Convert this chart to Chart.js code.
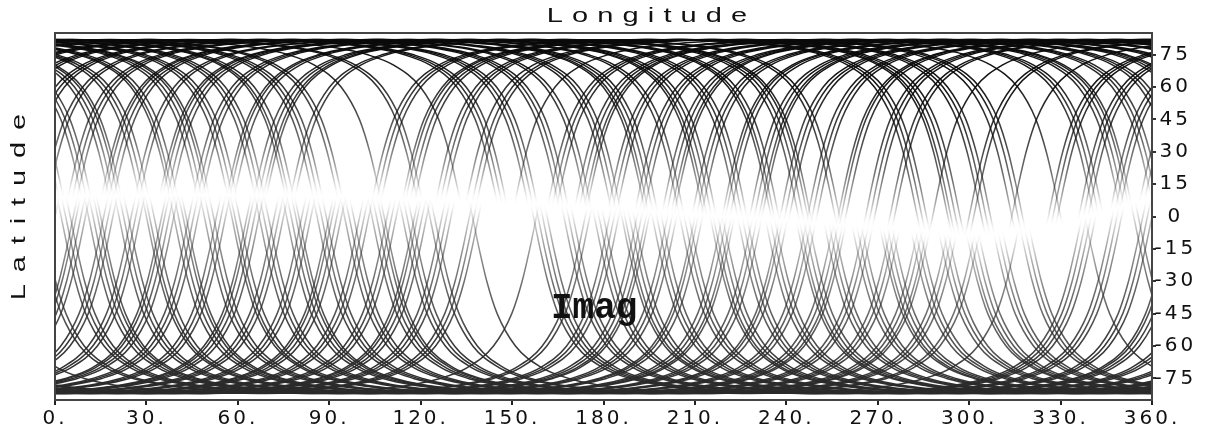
<!DOCTYPE html>
<html>
<head>
<meta charset="utf-8">
<style>
  html, body { margin: 0; padding: 0; background: #fff; }
  #wrap { width: 1209px; height: 428px; }
</style>
</head>
<body>
<div id="wrap"><canvas id="orbitChart" width="1209" height="428"></canvas></div>

<script src="https://cdn.jsdelivr.net/npm/chart.js"></script>
<script>
// axis ticks
const xTicks = [0, 30, 60, 90, 120, 150, 180, 210, 240, 270, 300, 330, 360];
const yTicks = [-75, -60, -45, -30, -15, 0, 15, 30, 45, 60, 75];

// one quarter of a ground track:
// latitude vs. longitude offset from the equator crossing
const trackLat = [-20, 0, 15, 30, 45, 60, 70, 75, 78, 80, 81, 81.6, 82];
const trackOff = [-3.0, 0, 2.2, 4.7, 8.1, 14.1, 22.7, 31.6, 41.3, 52.8, 62.4, 71.8, 90];

// equator crossing (start) of each northern pass, in bundles
const northNodes = [3, 4.5, 6, 14, 15, 16.5, 18, 25, 26.5, 33, 34, 35.5, 37, 44, 45.5, 47,
  55, 56, 57.5, 64, 65.5, 67, 68, 76, 77.5, 103, 104.5, 106, 113, 114, 115.5, 117,
  124, 125.5, 127, 134, 136, 137.5, 150, 161, 162.5, 164, 170, 171.5, 173, 174,
  181, 182.5, 184, 190, 191.5, 193, 199, 200.5, 202, 203, 209, 210.5, 212, 219, 220,
  221.5, 228, 229.5, 231, 232, 238, 239.5, 241, 247, 248.5, 250, 257, 258, 259.5,
  266, 267.5, 269, 274, 275.5, 288, 300, 301.5, 314, 326, 327.5, 329, 336, 337.5,
  339, 346, 347.5, 349, 355, 356.5];

// equator crossing (start) of each southern pass, in bundles
const southNodes = [2, 3.5, 5, 11, 12.5, 14, 15, 21, 22.5, 24, 30, 31, 32.5, 39, 40.5, 42,
  43, 49, 50.5, 52, 58, 59, 60.5, 67, 68.5, 70, 76, 77.5, 79, 80, 86, 87.5, 89, 95,
  96.5, 98, 104, 105.5, 107, 108, 114, 115.5, 117, 123, 124.5, 137, 157, 158.5, 160,
  161.5, 167, 168.5, 170, 177, 178.5, 180, 186, 187, 188.5, 190, 196, 197.5, 199,
  205, 206.5, 208, 215, 216, 217.5, 219, 224, 225.5, 227, 233, 234.5, 236, 243, 244,
  245.5, 247, 252, 253.5, 255, 261, 262.5, 264, 270, 271, 272.5, 274, 280, 281.5,
  283, 289, 290.5, 292, 298, 299, 300.5, 302, 307, 308.5, 310, 316, 317.5, 319, 338,
  354, 355.5];

// latitude of the washed-out (white) band along longitude
const bandLon = [0, 30, 60, 90, 120, 150, 180, 210, 240, 270, 300, 330, 360];
const bandLat = [9, 10, 10, 9, 8, 6, 4, 1, -2, -5, -9, -4, 9];

// grey level vs. distance from the white band
const shadeD = [0, 3, 8, 15, 25, 40, 55, 68, 100];
const shadeNorthG = [255, 245, 205, 160, 112, 72, 45, 20, 10];
const shadeSouthG = [255, 245, 212, 175, 140, 104, 80, 55, 42];

function lerpTable(xs, ys, v) {
  if (v <= xs[0]) return ys[0];
  for (let i = 1; i < xs.length; i++) {
    if (v <= xs[i]) {
      const t = (v - xs[i - 1]) / (xs[i] - xs[i - 1]);
      return ys[i - 1] + t * (ys[i] - ys[i - 1]);
    }
  }
  return ys[ys.length - 1];
}

function bandAt(lon) {
  lon = ((lon % 360) + 360) % 360;
  return lerpTable(bandLon, bandLat, lon);
}

// a pass fades out once it crosses the band into the other hemisphere
function greyFor(d, sign) {
  if (d * sign <= 0) return 255;
  return sign > 0 ? lerpTable(shadeD, shadeNorthG, d) : lerpTable(shadeD, shadeSouthG, -d);
}

// same grey over white, but as a see-through dark ink so faded parts never cover other tracks
function inkFor(v, sign) {
  const base = sign > 0 ? 10 : 42;
  const a = Math.max(0, Math.min(1, (255 - v) / (255 - base)));
  return `rgba(${base},${base},${base},${a.toFixed(3)})`;
}

const gradCache = {};
function shaded(context) {
  const chart = context.chart;
  const ys = chart.scales.y;
  if (!chart.chartArea || !ys) return '#555';
  const c = context.dataset.band;
  const sign = context.dataset.hemi;
  const key = c + ':' + sign + ':' + chart.chartArea.top + ':' + chart.chartArea.bottom;
  if (gradCache[key]) return gradCache[key];
  const y0 = ys.getPixelForValue(85), y1 = ys.getPixelForValue(-85);
  const g = chart.ctx.createLinearGradient(0, y0, 0, y1);
  for (let lat = 85; lat >= -85; lat--) {
    g.addColorStop((85 - lat) / 170, inkFor(greyFor(lat - c, sign), sign));
  }
  gradCache[key] = g;
  return g;
}

// half of a pass: rising (node -> pole) or falling (pole -> node + 180)
function halfPass(start, sign, falling) {
  let pts = trackOff.map((o, i) => ({
    x: falling ? start + 180 - o : start + o,
    y: sign * trackLat[i]
  }));
  if (falling) pts.reverse();
  return pts;
}

const datasets = [];
function addPass(start, sign) {
  [false, true].forEach(falling => {
    const pts = halfPass(start, sign, falling);
    const node = falling ? start + 180 : start;
    const band = Math.round(bandAt(node) * 2) / 2;
    [0, -360, 360].forEach(shift => {
      const shiftedPts = pts.map(p => ({ x: p.x + shift, y: p.y }));
      const inside = shiftedPts.some(p => p.x >= 0 && p.x <= 360);
      if (!inside) return;
      datasets.push({
        data: shiftedPts,
        band: band,
        hemi: sign,
        borderColor: shaded,
        borderWidth: 1.5,
        pointRadius: 0,
        fill: false,
        cubicInterpolationMode: 'monotone'
      });
    });
  });
}
northNodes.forEach(n => addPass(n, 1));
southNodes.forEach(n => addPass(n, -1));

function spacedText(ctx, text, cx, cy, size, stretch, spacing, rotate) {
  ctx.save();
  ctx.translate(cx, cy);
  if (rotate) ctx.rotate(-Math.PI / 2);
  ctx.scale(stretch, 1);
  ctx.font = size + 'px "Liberation Sans", Arial, sans-serif';
  ctx.letterSpacing = spacing + 'px';
  ctx.fillStyle = '#111';
  ctx.textAlign = 'left';
  ctx.textBaseline = 'alphabetic';
  const w = ctx.measureText(text).width - spacing;
  ctx.fillText(text, -w / 2, 0);
  ctx.restore();
}

const framePlugin = {
  id: 'frame',
  beforeDraw(chart) {
    chart.ctx.letterSpacing = '3px';
  },
  afterDraw(chart) {
    const { ctx, chartArea: a } = chart;
    ctx.letterSpacing = '0px';
    ctx.save();
    ctx.strokeStyle = '#444';
    ctx.lineWidth = 2;
    ctx.strokeRect(a.left, a.top, a.right - a.left, a.bottom - a.top);
    ctx.restore();
    spacedText(ctx, 'Longitude', 647, 22, 20, 1.45, 6.3, false);
    spacedText(ctx, 'Latitude', 25, 207, 20, 1.45, 8.2, true);
    ctx.save();
    ctx.font = 'bold 36px "Liberation Mono", "Courier New", monospace';
    ctx.fillStyle = '#111';
    ctx.textAlign = 'left';
    ctx.textBaseline = 'alphabetic';
    ctx.fillText('Imag', 551, 318);
    ctx.restore();
  }
};

const tickFont = { family: 'DejaVu Sans', size: 20 };

new Chart(document.getElementById('orbitChart').getContext('2d'), {
  type: 'line',
  data: { datasets: datasets },
  options: {
    responsive: false,
    animation: false,
    devicePixelRatio: 1,
    normalized: true,
    events: [],
    layout: { padding: { left: 55, top: 33, right: 0, bottom: 0 } },
    plugins: {
      legend: { display: false },
      tooltip: { enabled: false }
    },
    scales: {
      x: {
        type: 'linear',
        position: 'bottom',
        min: 0,
        max: 360,
        afterBuildTicks: scale => { scale.ticks = xTicks.map(v => ({ value: v })); },
        afterFit: scale => { scale.height = 28; },
        ticks: {
          color: '#111',
          font: tickFont,
          padding: 2,
          maxRotation: 0,
          autoSkip: false,
          callback: v => v + '.'
        },
        grid: { drawOnChartArea: false, drawTicks: true, tickLength: 5, color: '#222', lineWidth: 2 },
        border: { display: true, color: '#222', width: 2 }
      },
      y: {
        type: 'linear',
        position: 'right',
        min: -85,
        max: 85,
        afterBuildTicks: scale => { scale.ticks = yTicks.map(v => ({ value: v })); },
        afterFit: scale => { scale.width = 57; },
        ticks: {
          color: '#111',
          font: tickFont,
          padding: 3,
          crossAlign: 'center',
          autoSkip: false
        },
        grid: { drawOnChartArea: false, drawTicks: true, tickLength: 4, color: '#333', lineWidth: 2 },
        border: { display: true, color: '#333', width: 2 }
      }
    }
  },
  plugins: [framePlugin]
});
</script>
</body>
</html>
